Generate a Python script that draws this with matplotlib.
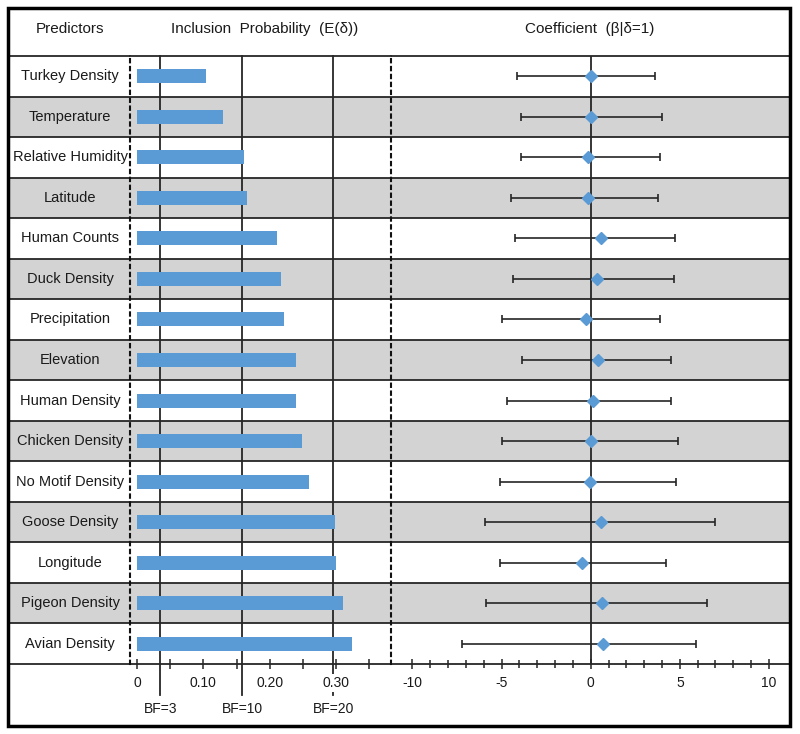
import numpy as np
import matplotlib.pyplot as plt
from matplotlib.patches import Rectangle
from matplotlib.transforms import blended_transform_factory

plt.rcParams['font.family'] = ['Liberation Sans', 'DejaVu Sans']

# Dane
predictors = ["Turkey Density", "Temperature", "Relative Humidity", "Latitude",
              "Human Counts", "Duck Density", "Precipitation", "Elevation",
              "Human Density", "Chicken Density", "No Motif Density",
              "Goose Density", "Longitude", "Pigeon Density", "Avian Density"]
inclusion_prob = [0.104, 0.129, 0.162, 0.166, 0.211, 0.217, 0.222, 0.239,
                  0.240, 0.248, 0.260, 0.298, 0.300, 0.311, 0.324]
coef_mean = [0.02, 0.0, -0.13, -0.13, 0.56, 0.34, -0.28, 0.41,
             0.13, 0.02, -0.04, 0.56, -0.47, 0.62, 0.67]
coef_lo = [-4.12, -3.93, -3.93, -4.47, -4.25, -4.38, -4.99, -3.85,
           -4.71, -4.99, -5.07, -5.95, -5.07, -5.89, -7.22]
coef_hi = [3.59, 4.0, 3.87, 3.79, 4.75, 4.67, 3.87, 4.52,
           4.52, 4.88, 4.8, 6.97, 4.2, 6.5, 5.89]
bf_labels = ["BF=3", "BF=10", "BF=20"]
bf_prob = [0.035, 0.159, 0.296]

prob_ticks = [0, 0.05, 0.10, 0.15, 0.20, 0.25, 0.30, 0.35]
prob_ticklabels = ["0", "", "0.10", "", "0.20", "", "0.30", ""]
coef_ticks = [-10, -5, 0, 5, 10]

W, H = 800, 734
BLUE = "#5b9bd5"
GRAY = "#d3d3d3"
LINE = "#262626"
TXT = "#1a1a1a"


def px_box(x0, x1, y0, y1):
    return [x0 / W, 1 - y1 / H, (x1 - x0) / W, (y1 - y0) / H]


fig = plt.figure(figsize=(W / 100, H / 100), dpi=100)
n = len(predictors)
y = np.arange(n)

ax_lab = fig.add_axes(px_box(8, 130, 56, 664))
ax_coef = fig.add_axes(px_box(391, 790, 56, 664))
ax_bar = fig.add_axes(px_box(130, 391, 56, 664))
ax_bar.set_zorder(2)

for ax in (ax_lab, ax_bar, ax_coef):
    ax.set_ylim(n - 0.5, -0.5)
    ax.set_yticks([])
    for i in range(n):
        if i % 2 == 1:
            ax.axhspan(i - 0.5, i + 0.5, color=GRAY, lw=0, zorder=0.5)
        if i < n - 1:
            ax.axhline(i + 0.5, color=LINE, lw=1.3, zorder=1)
    for s in ("top", "bottom"):
        ax.spines[s].set_color(LINE)
        ax.spines[s].set_linewidth(1.3)
    ax.tick_params(axis="x", colors=LINE, labelcolor=TXT, labelsize=10,
                   direction="inout", length=7, width=1.1, pad=5)

# kolumna z nazwami predyktorow
ax_lab.set_xlim(0, 1)
ax_lab.set_xticks([])
ax_lab.spines["left"].set_visible(False)
ax_lab.spines["right"].set_visible(False)
for i, name in enumerate(predictors):
    ax_lab.text(0.51, i, name, ha="center", va="center", fontsize=10.5, color=TXT)

# prawdopodobienstwo wlaczenia
ax_bar.set_xlim(-0.01055, 0.3829)
for s in ("left", "right"):
    ax_bar.spines[s].set_linestyle((0, (1.6, 2.2)))
    ax_bar.spines[s].set_linewidth(1.5)
    ax_bar.spines[s].set_color("#111111")
    ax_bar.spines[s].set_zorder(4)
ax_bar.barh(y, inclusion_prob, height=0.345, left=0, color=BLUE, zorder=3)
ax_bar.set_xticks(prob_ticks)
ax_bar.set_xticklabels(prob_ticklabels)
for lab in ax_bar.get_xticklabels():
    lab.set_bbox(dict(facecolor="white", edgecolor="none", pad=1.5))
trans = blended_transform_factory(ax_bar.transData, ax_bar.transAxes)
for p, lab in zip(bf_prob, bf_labels):
    ax_bar.plot([p, p], [1, -0.051], transform=trans, color=LINE, lw=1.3,
                clip_on=False, zorder=1.2)
    ax_bar.text(p, -0.074, lab, transform=trans, ha="center", va="center",
                fontsize=10, color=TXT)

# wspolczynniki
ax_coef.set_xlim(-11.2, 11.18)
ax_coef.spines["left"].set_visible(False)
ax_coef.spines["right"].set_visible(False)
ax_coef.axvline(0, color=LINE, lw=1.3, zorder=1.5)
mean = np.array(coef_mean)
xerr = [mean - np.array(coef_lo), np.array(coef_hi) - mean]
ax_coef.errorbar(mean, y, xerr=xerr, fmt="D", color=BLUE, markersize=6.5,
                 ecolor=LINE, elinewidth=1.2, capsize=3, capthick=1.2, zorder=3)
ax_coef.set_xticks(coef_ticks)
ax_coef.set_xticklabels([str(t) for t in coef_ticks])
ax_coef.set_xticks(np.arange(-10, 11, 1), minor=True)
ax_coef.tick_params(axis="x", which="minor", direction="inout", length=6,
                    width=1.1, colors=LINE)

# naglowki
fig.text(70 / W, 1 - 29 / H, "Predictors", ha="center", va="center",
         fontsize=11, color=TXT)
fig.text(265 / W, 1 - 29 / H, "Inclusion  Probability  (E(δ))", ha="center",
         va="center", fontsize=11, color=TXT)
fig.text(590 / W, 1 - 29 / H, "Coefficient  (β|δ=1)", ha="center",
         va="center", fontsize=11, color=TXT)

# ramka
fig.patches.append(Rectangle((8 / W, 1 - 726 / H), 782 / W, 718 / H,
                             transform=fig.transFigure, fill=False,
                             edgecolor="black", lw=2.5))

fig.savefig("out.png", dpi=100, facecolor="white")
